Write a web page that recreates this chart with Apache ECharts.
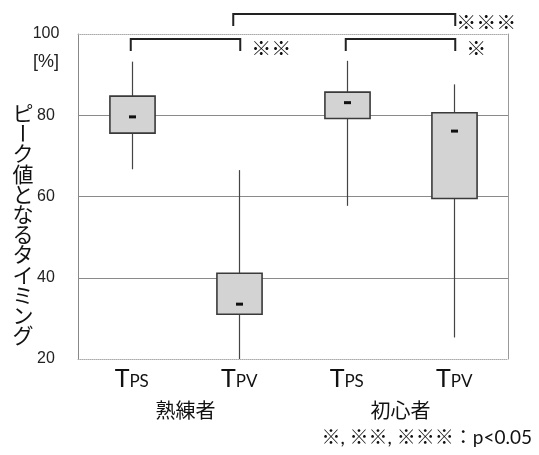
<!DOCTYPE html>
<html>
<head>
<meta charset="utf-8">
<script src="https://cdn.jsdelivr.net/npm/echarts@6/dist/echarts.min.js"></script>
<style>
  html, body { margin: 0; padding: 0; background: #fff; }
  #chart { width: 539px; height: 455px; }
</style>
</head>
<body>
<div id="chart"></div>
<script>
// Timing of the peak value, experts vs. beginners (box = quartiles, whiskers = range)
const phaseLabels = ['TPS', 'TPV', 'TPS', 'TPV'];
const groupLabels = ['熟練者', '初心者'];
const whiskerLow  = [66.7, 20.0, 57.7, 25.3];
const boxLow      = [75.6, 31.0, 79.2, 59.5];
const medians     = [79.6, 33.5, 83.1, 76.1];
const boxHigh     = [84.7, 41.1, 85.7, 80.6];
const whiskerHigh = [93.2, 66.5, 93.4, 87.6];

// significance brackets: from category, to category, tier, marks
const bracketFrom  = [0, 2, 1];
const bracketTo    = [1, 3, 3];
const bracketTier  = [0, 0, 1];
const bracketMarks = ['※※', '※', '※※※'];

const yTitle = 'ピーク値となるタイミング';
const yUnit = '[%]';
const noteText = '※, ※※, ※※※：p<0.05';

const CJK = '"Noto Sans CJK JP", sans-serif';
const LATIN = 'Lato, "Noto Sans CJK JP", sans-serif';
const ARIAL = '"Liberation Sans", Arial, sans-serif';

const chart = echarts.init(document.getElementById('chart'), null, { renderer: 'canvas' });

const boxData = phaseLabels.map((_, i) =>
  [i, whiskerLow[i], boxLow[i], medians[i], boxHigh[i], whiskerHigh[i]]);
const bracketData = bracketFrom.map((f, i) => [f, bracketTo[i], bracketTier[i]]);

// vertical (tategaki) axis title, one glyph per line; the long vowel mark turns upright
const titleChars = Array.from(yTitle).map((ch, k) => ({
  type: 'text',
  x: 23,
  y: 113 + k * 20.2,
  rotation: ch === 'ー' ? -Math.PI / 2 : 0,
  style: {
    text: ch,
    fontSize: 21,
    fontFamily: CJK,
    fill: '#111',
    align: 'center',
    verticalAlign: 'middle'
  }
}));

const option = {
  backgroundColor: '#fff',
  animation: false,
  grid: { left: 78, right: 31, top: 34, bottom: 96 },
  xAxis: [
    {
      type: 'category',
      data: phaseLabels,
      position: 'bottom',
      boundaryGap: true,
      axisLine: { show: true, lineStyle: { color: '#aaa', width: 1, type: 'dotted' } },
      axisTick: { show: false },
      splitLine: { show: false },
      axisLabel: {
        margin: 4,
        formatter: v => '{t|' + v.charAt(0) + '}{s|' + v.slice(1) + '}',
        rich: {
          t: { fontFamily: LATIN, fontSize: 25, color: '#111', verticalAlign: 'bottom', lineHeight: 28 },
          s: { fontFamily: LATIN, fontSize: 17, color: '#111', verticalAlign: 'bottom', lineHeight: 22, padding: [0, 0, 1, 0] }
        }
      }
    },
    {
      type: 'category',
      data: groupLabels,
      position: 'bottom',
      offset: 36,
      axisLine: { show: false },
      axisTick: { show: false },
      axisLabel: { margin: 5, fontFamily: CJK, fontSize: 20, color: '#111' }
    },
    {
      type: 'category',
      data: phaseLabels,
      position: 'top',
      axisLine: { show: true, lineStyle: { color: '#aaa', width: 1, type: 'dotted' } },
      axisTick: { show: false },
      axisLabel: { show: false }
    }
  ],
  yAxis: [
    {
      type: 'value',
      min: 20,
      max: 100,
      interval: 20,
      axisLine: { show: true, lineStyle: { color: '#888', width: 1 } },
      axisTick: { show: false },
      axisLabel: {
        margin: 32,
        align: 'center',
        fontFamily: ARIAL,
        fontSize: 16,
        color: '#222'
      },
      splitLine: {
        show: true,
        showMinLine: false,
        showMaxLine: false,
        lineStyle: { color: '#8a8a8a', width: 1 }
      }
    },
    {
      type: 'value',
      position: 'right',
      min: 20,
      max: 100,
      interval: 20,
      axisLine: { show: true, lineStyle: { color: '#999', width: 1 } },
      axisTick: { show: false },
      axisLabel: { show: false },
      splitLine: { show: false }
    }
  ],
  series: [
    {
      name: 'timing',
      type: 'custom',
      xAxisIndex: 0,
      yAxisIndex: 0,
      clip: false,
      data: boxData,
      encode: { x: 0, y: [1, 2, 3, 4, 5] },
      renderItem(params, api) {
        const i = api.value(0);
        const lo = api.coord([i, api.value(1)]);
        const q1 = api.coord([i, api.value(2)]);
        const md = api.coord([i, api.value(3)]);
        const q3 = api.coord([i, api.value(4)]);
        const hi = api.coord([i, api.value(5)]);
        const bw = api.size([1, 0])[0] * 0.42;
        const cx = Math.round(md[0]) + 0.5;
        const whisker = { stroke: '#444', lineWidth: 1.2 };
        return {
          type: 'group',
          children: [
            { type: 'line', shape: { x1: cx, y1: hi[1], x2: cx, y2: q3[1] }, style: whisker },
            { type: 'line', shape: { x1: cx, y1: q1[1], x2: cx, y2: lo[1] }, style: whisker },
            {
              type: 'rect',
              shape: { x: cx - bw / 2, y: q3[1], width: bw, height: q1[1] - q3[1] },
              style: { fill: '#d3d3d3', stroke: '#3a3a3a', lineWidth: 1.6 }
            },
            {
              type: 'rect',
              shape: { x: cx - 3.5, y: md[1] - 1.5, width: 7, height: 3 },
              style: { fill: '#111' }
            }
          ]
        };
      }
    },
    {
      name: 'significance',
      type: 'custom',
      xAxisIndex: 0,
      yAxisIndex: 0,
      clip: false,
      silent: true,
      data: bracketData,
      encode: { x: [0, 1], y: 2 },
      renderItem(params, api) {
        const a = api.coord([api.value(0), 100]);
        const b = api.coord([api.value(1), 100]);
        const outer = api.value(2) === 1;
        const top = outer ? a[1] - 20 : a[1] + 5;
        const legEnd = top + 12;
        const x1 = a[0] - (outer ? 6 : 1);
        const x2 = b[0] + 1;
        return {
          type: 'group',
          children: [
            {
              type: 'polyline',
              shape: { points: [[x1, legEnd], [x1, top], [x2, top], [x2, legEnd]] },
              style: { stroke: '#222', lineWidth: 2, fill: null }
            },
            {
              type: 'text',
              x: x2 + (outer ? 1 : 11),
              y: top + (outer ? 8 : 9),
              style: {
                text: bracketMarks[params.dataIndex],
                fontSize: 20,
                fontWeight: 'bold',
                fontFamily: CJK,
                fill: '#111',
                align: 'left',
                verticalAlign: 'middle'
              }
            }
          ]
        };
      }
    }
  ],
  graphic: [
    {
      type: 'text',
      x: 46,
      y: 62,
      style: { text: yUnit, fontSize: 18, fontFamily: ARIAL, fill: '#222', align: 'center', verticalAlign: 'middle' }
    },
    { type: 'group', children: titleChars },
    {
      type: 'text',
      x: 532,
      y: 438,
      style: { text: noteText, fontSize: 19, fontFamily: LATIN, fill: '#111', align: 'right', verticalAlign: 'middle' }
    }
  ]
};

chart.setOption(option);
</script>
</body>
</html>
